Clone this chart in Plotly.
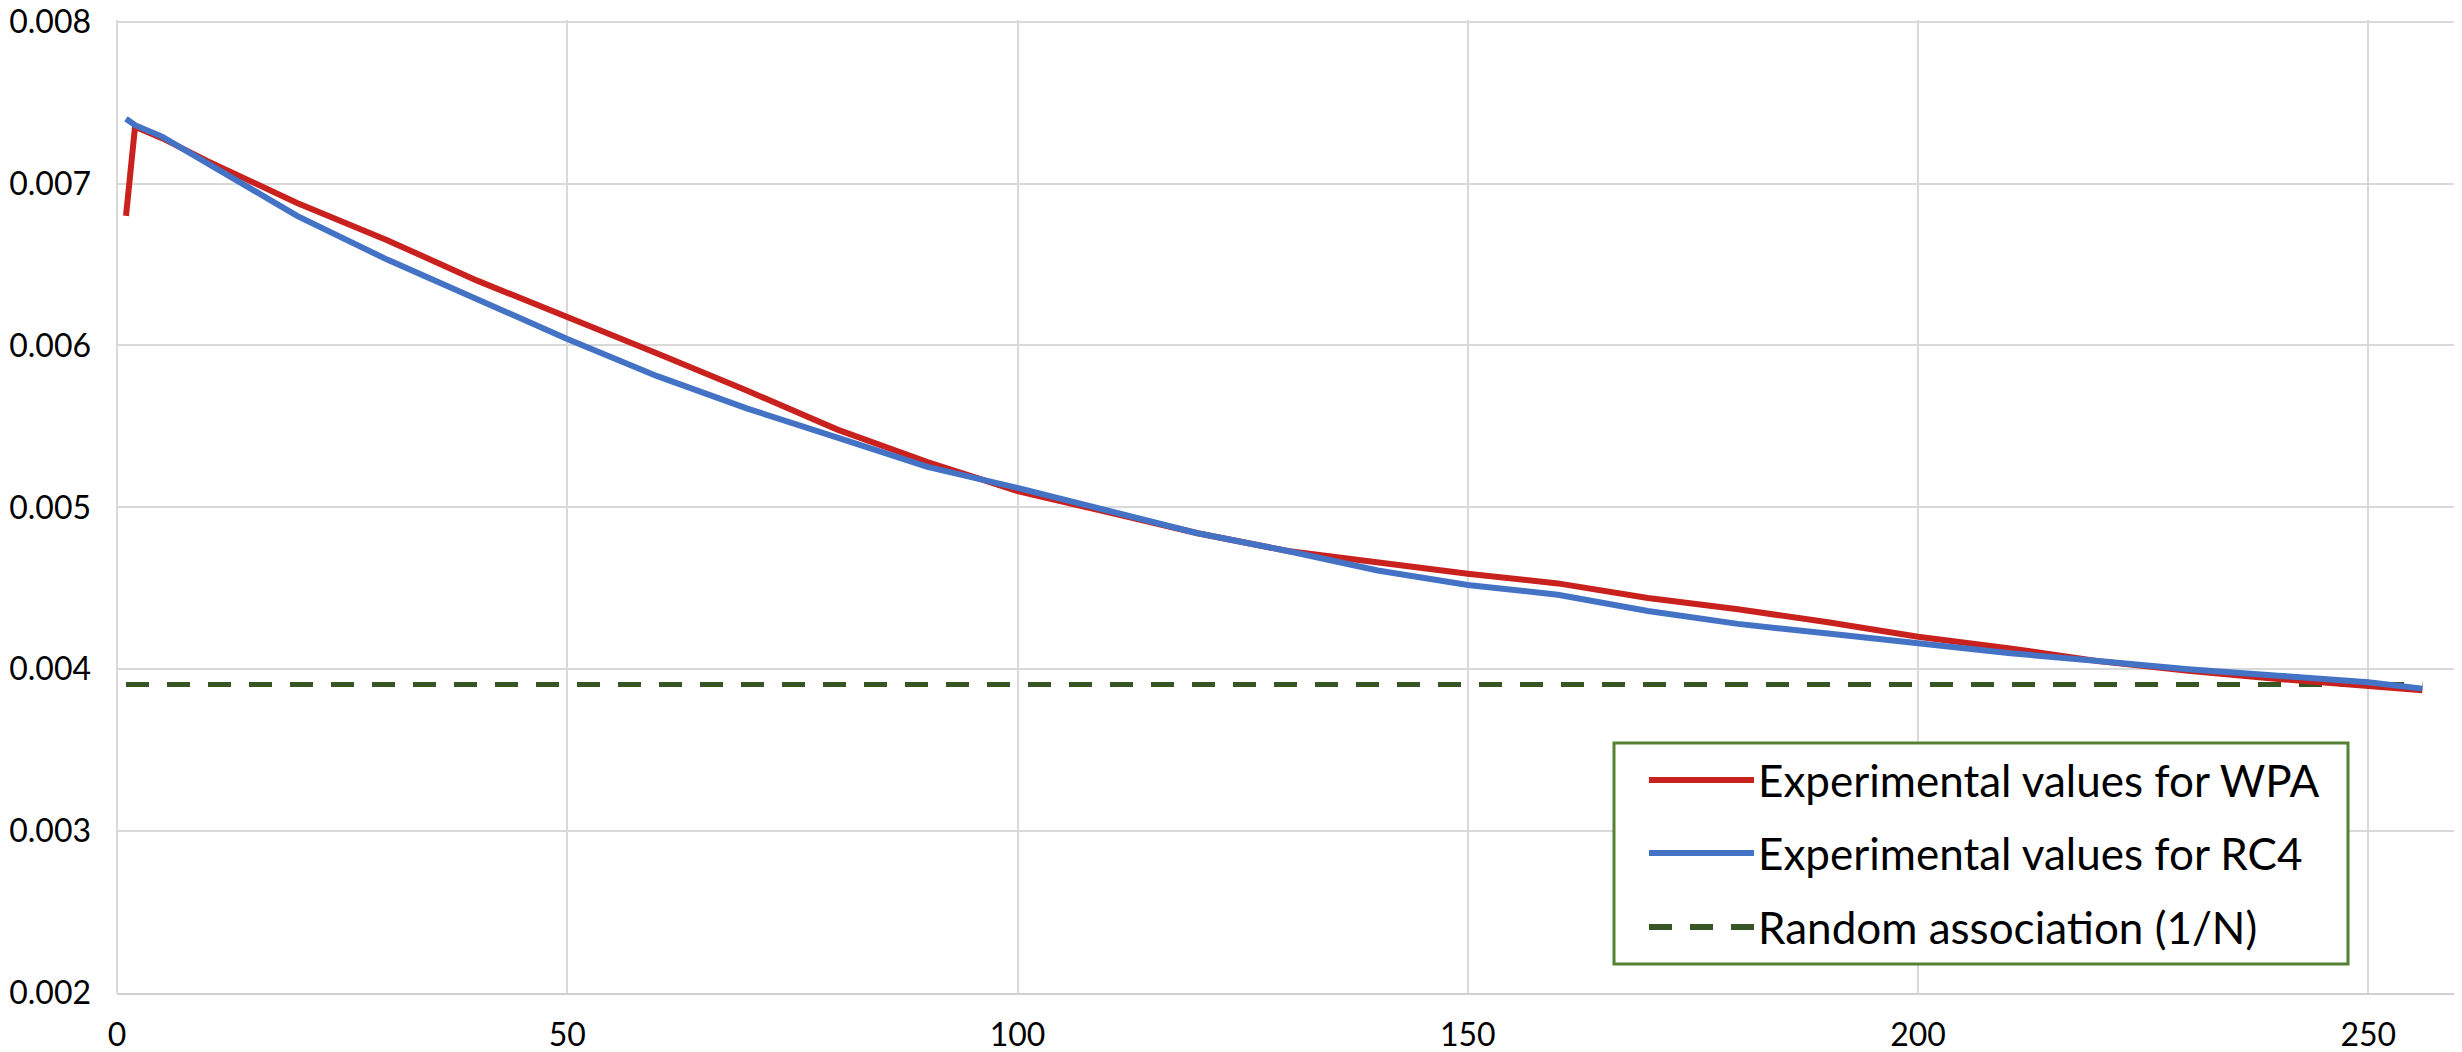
import plotly.graph_objects as go

# sampled readings from the chart
steps = [1, 2, 5, 10, 20, 30, 40, 50, 60, 70, 80, 90, 100, 110, 120, 130,
         140, 150, 160, 170, 180, 190, 200, 210, 220, 230, 240, 250, 256]
wpa = [0.00680, 0.00735, 0.00728, 0.00714, 0.00688, 0.00665, 0.00640,
       0.00617, 0.00595, 0.00572, 0.00548, 0.00528, 0.00510, 0.00497,
       0.00484, 0.00473, 0.00466, 0.00459, 0.00453, 0.00444, 0.00437,
       0.00429, 0.00420, 0.00413, 0.00405, 0.00399, 0.00394, 0.00390,
       0.00387]
rc4 = [0.00740, 0.00736, 0.00729, 0.00713, 0.00680, 0.00653, 0.00628,
       0.00604, 0.00581, 0.00561, 0.00543, 0.00525, 0.00512, 0.00498,
       0.00484, 0.00473, 0.00461, 0.00452, 0.00446, 0.00436, 0.00428,
       0.00422, 0.00416, 0.00410, 0.00405, 0.00400, 0.00396, 0.00392,
       0.00388]
n_keys = 256
random_level = [1 / n_keys, 1 / n_keys]
random_x = [1, 256]

names = ['Experimental values for WPA', 'Experimental values for RC4',
         'Random association (1/N)']
colors = ['#C9211E', '#4472C4', '#375623']

# page body has an 8px margin, so the figure is a bit smaller than the window
OFF = 8
W, H = 2462 - OFF, 1052 - OFF
L, R, T, B = 117 - OFF, 0, 12, 59
font = 'Lato, Carlito, Calibri, sans-serif'


def px(x):
    return (x - OFF - L) / (W - L - R)


def py(y):
    return (H - B - (y - OFF)) / (H - T - B)


fig = go.Figure()
fig.add_trace(go.Scatter(x=random_x, y=random_level, mode='lines',
                         name=names[2],
                         line={'color': colors[2], 'width': 5,
                               'dash': '23px,18px'}))
fig.add_trace(go.Scatter(x=steps, y=wpa, mode='lines', name=names[0],
                         line={'color': colors[0], 'width': 6}))
fig.add_trace(go.Scatter(x=steps, y=rc4, mode='lines', name=names[1],
                         line={'color': colors[1], 'width': 6}))

# legend drawn by hand so the line samples keep their long Excel look
fig.add_shape(type='rect', xref='paper', yref='paper',
              x0=px(1614), x1=px(2348), y0=py(964), y1=py(743),
              fillcolor='white', line={'color': '#548235', 'width': 3})
rows = [780, 853, 927]
dashes = ['solid', 'solid', '23px,18px']
for i, yy in enumerate(rows):
    fig.add_shape(type='line', xref='paper', yref='paper',
                  x0=px(1649), x1=px(1754), y0=py(yy), y1=py(yy),
                  line={'color': colors[i], 'width': 6, 'dash': dashes[i]})
    fig.add_annotation(x=px(1756), y=py(yy), xref='paper', yref='paper',
                       text=names[i], showarrow=False, xanchor='left',
                       yanchor='middle',
                       font={'family': font, 'size': 44, 'color': 'black'})

fig.update_layout(width=W, height=H, showlegend=False,
                  margin={'l': L, 'r': R, 't': T, 'b': B, 'pad': 0,
                          'autoexpand': False},
                  plot_bgcolor='white', paper_bgcolor='white',
                  font={'family': font, 'size': 32, 'color': 'black'})
fig.update_xaxes(range=[0, 260.4], tickvals=[0, 50, 100, 150, 200, 250],
                 showgrid=True, gridcolor='#d9d9d9', gridwidth=2,
                 zeroline=True, zerolinecolor='#d9d9d9', zerolinewidth=2,
                 showline=True, linecolor='#d0d0d0', linewidth=2,
                 ticks='', ticklabelstandoff=13, automargin=False,
                 ticklabeloverflow='allow')
fig.update_yaxes(range=[0.002, 0.00801],
                 tickvals=[0.002, 0.003, 0.004, 0.005, 0.006, 0.007, 0.008],
                 tickformat='.3f', showgrid=True, gridcolor='#d9d9d9',
                 gridwidth=2, zeroline=False, showline=False, ticks='',
                 ticklabelstandoff=25, automargin=False,
                 ticklabeloverflow='allow')

fig.write_html("out.html")
